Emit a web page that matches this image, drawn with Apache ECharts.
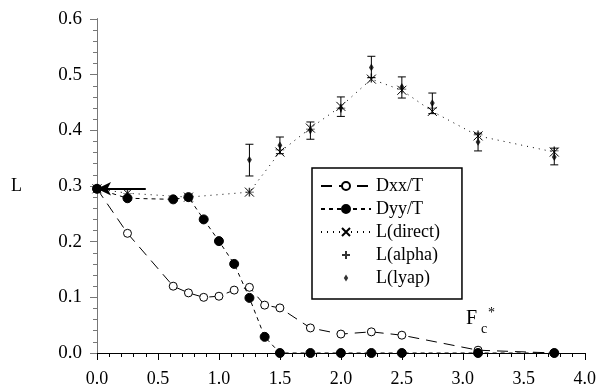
<!DOCTYPE html>
<html>
<head>
<meta charset="utf-8">
<script src="https://cdn.jsdelivr.net/npm/echarts@6/dist/echarts.min.js"></script>
<style>
  html, body { margin: 0; padding: 0; background: #fff; }
  #chart { width: 599px; height: 391px; }
</style>
</head>
<body>
<div id="chart"></div>
<script>
// F_c* values where the D curves were sampled
const xD = [0, 0.25, 0.625, 0.75, 0.875, 1.0, 1.125, 1.25, 1.375, 1.5, 1.75, 2.0, 2.25, 2.5, 3.125, 3.75];
const dxx = [0.295, 0.215, 0.12, 0.108, 0.10, 0.102, 0.113, 0.118, 0.086, 0.081, 0.045, 0.034, 0.038, 0.032, 0.005, 0];
const dyy = [0.295, 0.278, 0.276, 0.28, 0.24, 0.201, 0.16, 0.099, 0.029, 0, 0, 0, 0, 0, 0, 0];

// L estimates
const xL = [0, 0.25, 0.75, 1.25, 1.5, 1.75, 2.0, 2.25, 2.5, 2.75, 3.125, 3.75];
const lDirect = [0.295, 0.287, 0.28, 0.289, 0.361, 0.404, 0.443, 0.492, 0.472, 0.434, 0.39, 0.361];
const xAlpha = [0.25, 0.75, 1.25, 1.5, 1.75, 2.0, 2.25, 2.5, 2.75, 3.125, 3.75];
const lAlpha = [0.287, 0.28, 0.289, 0.365, 0.402, 0.44, 0.494, 0.474, 0.44, 0.392, 0.363];
const xLyap = [1.25, 1.5, 1.75, 2.0, 2.25, 2.5, 2.75, 3.125, 3.75];
const lLyap = [0.347, 0.373, 0.40, 0.44, 0.513, 0.478, 0.449, 0.379, 0.352];
const lyapLow = [0.318, 0.358, 0.384, 0.425, 0.495, 0.458, 0.43, 0.363, 0.338];
const lyapHigh = [0.375, 0.388, 0.415, 0.46, 0.533, 0.496, 0.467, 0.395, 0.368];

// arrow pointing at the F_c* = 0 value
const arrowFrom = [0.4, 0.295];
const arrowTo = [0, 0.295];

const serif = 'Times New Roman';
const crossPath = 'path://M0,0L10,10M10,0L0,10';
// the zero-length corner segments pad the box so the legend icon stays small
const plusPath = 'path://M0,0L0,0M20,10L20,10M10,1L10,9M6,5L14,5';
const diamondPath = 'path://M0,0L0,0M20,10L20,10M10,1.5L12.2,5L10,8.5L7.8,5Z';

const zip = (xs, ys) => xs.map((x, i) => [x, ys[i]]);

const chart = echarts.init(document.getElementById('chart'), null, { renderer: 'canvas' });

const baseAxis = {
  axisLine: { lineStyle: { color: '#000', width: 1 } },
  splitLine: { show: false },
};

chart.setOption({
  animation: false,
  backgroundColor: '#fff',
  grid: { left: 97, right: 14, top: 19, bottom: 38 },
  legend: {
    left: 312,
    top: 168,
    orient: 'vertical',
    padding: [9, 22, 12, 8],
    itemWidth: 50,
    itemHeight: 10,
    itemGap: 5,
    borderColor: '#000',
    borderWidth: 1.5,
    textStyle: { fontFamily: serif, fontSize: 18, color: '#000', lineHeight: 17 },
    data: ['Dxx/T', 'Dyy/T', 'L(direct)', 'L(alpha)', 'L(lyap)'],
  },
  xAxis: [
    Object.assign({}, baseAxis, {
      type: 'value', min: 0, max: 4, interval: 0.5, position: 'bottom',
      axisTick: { length: 7, lineStyle: { color: '#000' } },
      minorTick: { show: true, splitNumber: 5, length: 4, lineStyle: { color: '#000' } },
      axisLabel: { fontFamily: serif, fontSize: 18, color: '#000', margin: 17, formatter: v => v.toFixed(1) },
    }),
    Object.assign({}, baseAxis, {
      type: 'value', min: 0, max: 4, interval: 0.5, position: 'top',
      axisTick: { inside: true, length: 7, lineStyle: { color: '#000' } },
      minorTick: { show: true, splitNumber: 5, length: 4, lineStyle: { color: '#000' } },
      axisLabel: { show: false },
    }),
  ],
  yAxis: [
    Object.assign({}, baseAxis, {
      type: 'value', min: 0, max: 0.6, interval: 0.1, position: 'left',
      name: 'L', nameLocation: 'middle', nameRotate: 0, nameGap: 75,
      nameTextStyle: { fontFamily: serif, fontSize: 18, color: '#000' },
      axisTick: { length: 7, lineStyle: { color: '#000' } },
      minorTick: { show: true, splitNumber: 5, length: 4, lineStyle: { color: '#000' } },
      axisLabel: { fontFamily: serif, fontSize: 19, color: '#000', margin: 15, formatter: v => v.toFixed(1) },
    }),
    Object.assign({}, baseAxis, {
      type: 'value', min: 0, max: 0.6, interval: 0.1, position: 'right',
      axisLine: { lineStyle: { color: '#777', width: 1 } },
      axisTick: { inside: true, length: 7, lineStyle: { color: '#777' } },
      minorTick: { show: true, splitNumber: 5, length: 4, lineStyle: { color: '#777' } },
      axisLabel: { show: false },
    }),
  ],
  graphic: [
    { type: 'text', left: 466, top: 309, style: { text: 'F', fontFamily: serif, fontSize: 20, fill: '#000' } },
    { type: 'text', left: 481, top: 322, style: { text: 'c', fontFamily: serif, fontSize: 14, fill: '#000' } },
    { type: 'text', left: 488, top: 306, style: { text: '*', fontFamily: serif, fontSize: 14, fill: '#000' } },
  ],
  series: [
    {
      name: 'Dxx/T', type: 'line', data: zip(xD, dxx),
      symbol: 'circle', symbolSize: 8,
      itemStyle: { color: '#fff', borderColor: '#000', borderWidth: 1 },
      lineStyle: { color: '#000', width: 1, type: [11, 7] },
      z: 3,
    },
    {
      name: 'Dyy/T', type: 'line', data: zip(xD, dyy),
      symbol: 'circle', symbolSize: 9,
      itemStyle: { color: '#000', borderColor: '#000', borderWidth: 1 },
      lineStyle: { color: '#000', width: 1, type: [4, 4] },
      z: 4,
      markLine: {
        silent: true,
        symbol: ['none', 'arrow'],
        symbolSize: [10, 14],
        label: { show: false },
        lineStyle: { color: '#000', width: 2, type: 'solid' },
        data: [[{ coord: arrowFrom }, { coord: arrowTo }]],
      },
    },
    {
      name: 'L(direct)', type: 'line', data: zip(xL, lDirect),
      symbol: crossPath, symbolSize: 9,
      itemStyle: { color: 'none', borderColor: '#000', borderWidth: 1 },
      lineStyle: { color: '#000', width: 1, type: [1, 5] },
      z: 5,
    },
    {
      name: 'L(alpha)', type: 'scatter', data: zip(xAlpha, lAlpha),
      symbol: plusPath, symbolSize: [22, 11],
      itemStyle: { color: 'none', borderColor: '#000', borderWidth: 1 },
      z: 5,
    },
    {
      name: 'L(lyap)', type: 'scatter', data: zip(xLyap, lLyap),
      symbol: diamondPath, symbolSize: [22, 11],
      itemStyle: { color: '#000' },
      z: 6,
    },
    {
      name: 'lyap error', type: 'custom',
      data: xLyap.map((x, i) => [x, lyapLow[i], lyapHigh[i]]),
      renderItem: (params, api) => {
        const lo = api.coord([api.value(0), api.value(1)]);
        const hi = api.coord([api.value(0), api.value(2)]);
        const w = 4;
        const st = { stroke: '#000', lineWidth: 1 };
        return {
          type: 'group',
          children: [
            { type: 'line', shape: { x1: lo[0], y1: lo[1], x2: hi[0], y2: hi[1] }, style: st },
            { type: 'line', shape: { x1: hi[0] - w, y1: hi[1], x2: hi[0] + w, y2: hi[1] }, style: st },
            { type: 'line', shape: { x1: lo[0] - w, y1: lo[1], x2: lo[0] + w, y2: lo[1] }, style: st },
          ],
        };
      },
      z: 2,
    },
  ],
});
</script>
</body>
</html>
